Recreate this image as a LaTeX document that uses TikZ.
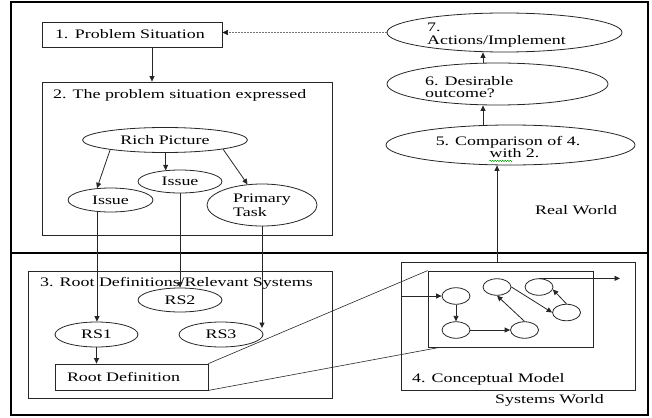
\documentclass[tikz,border=0pt]{standalone}
\usepackage{fontspec}
\setmainfont[FakeStretch=1.38]{Liberation Serif}
\usetikzlibrary{arrows.meta,shapes.geometric,decorations.pathmorphing}
\begin{document}
\begin{tikzpicture}[x=1pt,y=-1pt,
  font=\fontsize{13}{14}\selectfont,
  box/.style={draw=black!85, line width=0.8pt, rectangle, inner sep=0pt, text=black},
  ell/.style={draw=black!85, line width=0.8pt, ellipse, inner sep=0pt, text=black},
  sm/.style={draw=black!85, line width=0.8pt, ellipse, minimum width=28pt, minimum height=16.5pt, inner sep=0pt},
  arr/.style={draw=black!85, line width=0.8pt, -{Triangle[length=5.5pt,width=5pt]}},
  dotarr/.style={draw=black!55, line width=0.5pt, densely dotted, -{Triangle[length=5.5pt,width=5pt,color=black!90,fill=black!90]}},
  lbl/.style={anchor=base west, inner sep=0pt, text=black},
  clbl/.style={anchor=base, inner sep=0pt, text=black},
  frame/.style={draw=black, line width=2.6pt}
]
\useasboundingbox (0,0) rectangle (652,417);
% outer frames
\draw[frame] (11,2) rectangle (648,253);
\draw[frame] (11,253) rectangle (648,415);

% boxes
\node[box, minimum width=180pt, minimum height=25pt, text width=154pt, align=left, inner xsep=13pt] (ps) at (132,34.5) {1. Problem Situation};
\node[box, minimum width=290pt, minimum height=153pt] (box2) at (187,158.5) {};
\node[box, minimum width=304pt, minimum height=127pt] (box3) at (180,334.5) {};
\node[box, minimum width=234pt, minimum height=128pt] (box4) at (518,326) {};
\node[box, minimum width=165pt, minimum height=76pt] (inner) at (510.5,309) {};
\node[box, minimum width=153pt, minimum height=26pt, text width=129pt, align=left, inner xsep=12pt] (rootdef) at (131.5,377) {Root Definition};

% labels
\node[lbl] (t2) at (53,99) {2. The problem situation expressed};
\node[lbl] (t3) at (40,286) {3. Root Definitions/Relevant Systems};
\node[lbl] (t4) at (412,382) {4. Conceptual Model};
\node[lbl] (rw) at (535,214) {Real World};
\node[lbl] (sw) at (495,403) {Systems World};

% ellipses
\node[ell, minimum width=165pt, minimum height=25pt] (rich) at (165,140) {Rich Picture};
\node[ell, minimum width=85pt, minimum height=24pt] (issueL) at (110.5,200) {Issue};
\node[ell, minimum width=84pt, minimum height=23pt] (issueM) at (180,181.5) {Issue};
\node[ell, minimum width=110pt, minimum height=42pt, align=left] (ptask) at (262,205) {Primary\\Task};
\node[ell, minimum width=84pt, minimum height=24pt] (rs2) at (180,300) {RS2};
\node[ell, minimum width=83pt, minimum height=25pt] (rs1) at (96.5,334.5) {RS1};
\node[ell, minimum width=84pt, minimum height=25pt] (rs3) at (221,334.5) {RS3};
\node[ell, minimum width=235pt, minimum height=39pt] (e7) at (504.5,32.5) {};
\node[ell, minimum width=221pt, minimum height=42pt] (e6) at (497.5,84) {};
\node[ell, minimum width=249pt, minimum height=40pt] (e5) at (510.5,145) {};

\node[lbl] (t7a) at (427,32) {7.};
\node[lbl] (t7b) at (427,45) {Actions/Implement};
\node[lbl] (t6a) at (425,85) {6. Desirable};
\node[lbl] (t6b) at (425,97.5) {outcome?};
\node[clbl] (t5a) at (508,145.5) {5. Comparison of 4.};
\node[clbl] (t5b) at (514.5,157.5) {with 2.};
\draw[green!60!black, line width=0.5pt, decorate, decoration={snake, amplitude=0.7pt, segment length=2.5pt}] (t5b.south west) ++(0,3) -- ++(23,0);

% small circles
\node[sm] (c1) at (456,296) {};
\node[sm] (c2) at (456,330) {};
\node[sm] (c3) at (524.5,330) {};
\node[sm] (c4) at (497,287) {};
\node[sm] (c5) at (539,287) {};
\node[sm] (c6) at (566.5,312.5) {};

% connectors
\coordinate (a1) at ([xshift=20pt]ps.south);
\draw[arr] (a1) -- (a1 |- box2.north);
\draw[arr] (rich.190) -- (issueL.139);
\coordinate (m1) at (issueM.142);
\draw[arr] (m1 |- rich.south) -- (m1);
\draw[arr] (rich.351) -- (ptask.125);
\draw[arr] (issueL.221) -- (issueL.221 |- rs1.north);
\draw[arr] (issueM.south) -- (rs2.north);
\draw[arr] (ptask.south) -- (ptask.south |- rs3.10);
\draw[arr] (rs1.south) -- (rs1.south |- rootdef.north);
\draw[draw=black!85, line width=0.6pt] (rootdef.north east) -- (inner.north west);
\draw[draw=black!85, line width=0.6pt] (rootdef.south east) -- ([xshift=12pt]inner.south west);
\draw[arr] (c1.west -| box4.west) -- (c1.west);
\draw[arr] (c1.south) -- (c2.north);
\draw[arr] (c2.east) -- (c3.west);
\draw[arr] (c3.north) -- (c4.south);
\draw[arr] (c4.east) -- (c6.west);
\draw[arr] (c6.north) -- (c5.-10);
\coordinate (outend) at (620,279);
\draw[arr] (c5.north) -- (c5.north -| outend);
\draw[arr] (c4 |- box4.north) -- (c4 |- e5.south);
\coordinate (ax) at (483,100);
\draw[arr] (ax |- e5.north) -- (ax |- e6.south);
\draw[arr] (ax |- e6.north) -- (ax |- e7.south);
\draw[dotarr] (e7.west) -- (e7.west -| ps.east);
\end{tikzpicture}
\end{document}
